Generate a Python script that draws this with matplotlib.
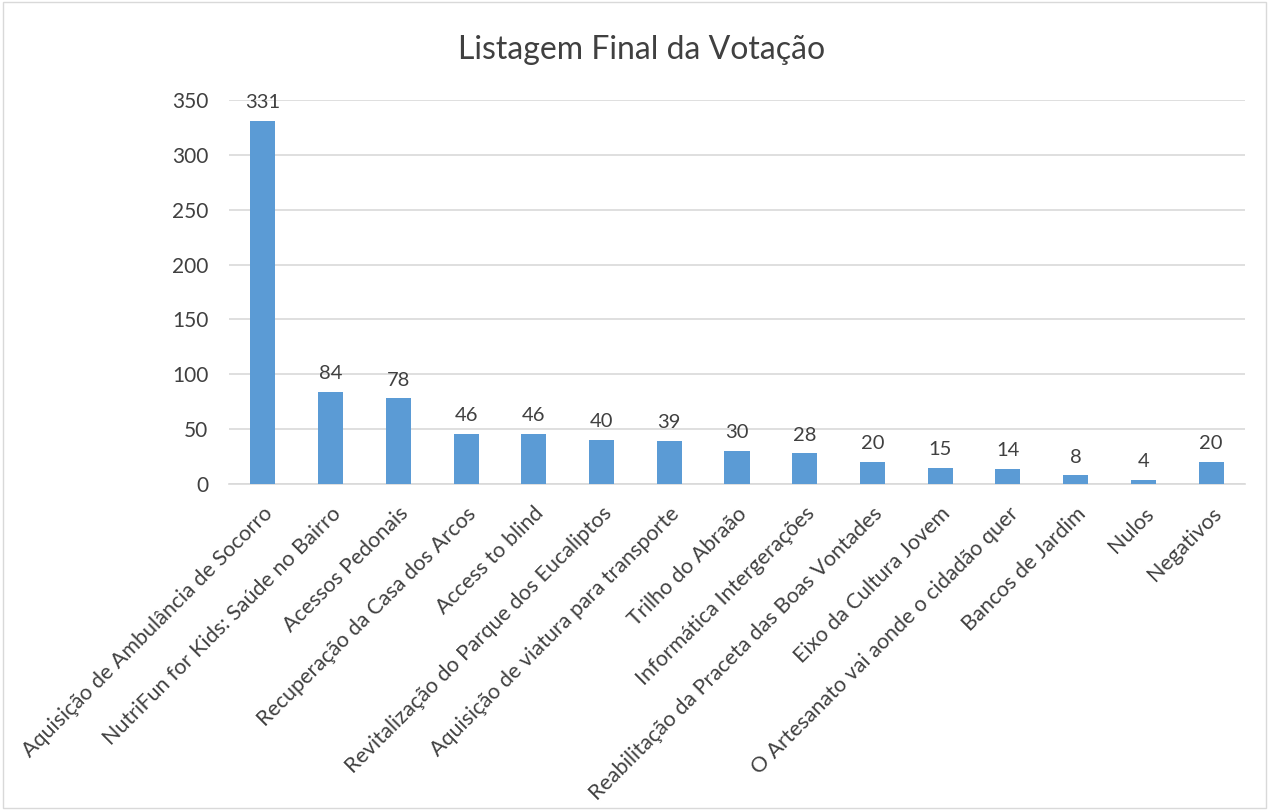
import matplotlib
matplotlib.use("Agg")
import matplotlib.pyplot as plt
from matplotlib.patches import Rectangle

projetos = ["Aquisição de Ambulância de Socorro", "NutriFun for Kids: Saúde no Bairro",
            "Acessos Pedonais", "Recuperação da Casa dos Arcos", "Access to blind",
            "Revitalização do Parque dos Eucaliptos", "Aquisição de viatura para transporte",
            "Trilho do Abraão", "Informática Intergerações", "Reabilitação da Praceta das Boas Vontades",
            "Eixo da Cultura Jovem", "O Artesanato vai aonde o cidadão quer", "Bancos de Jardim",
            "Nulos", "Negativos"]
votos = [331, 84, 78, 46, 46, 40, 39, 30, 28, 20, 15, 14, 8, 4, 20]
ticks_y = [0, 50, 100, 150, 200, 250, 300, 350]

plt.rcParams['font.family'] = ['Lato', 'DejaVu Sans']
cor_texto = "#404040"

fig = plt.figure(figsize=(12.69, 8.10), dpi=100)
ax = fig.add_axes([229/1269, 1 - 484/810, (1245-229)/1269, (484-100)/810])

x = range(len(projetos))
barras = ax.bar(x, votos, width=0.37, color="#5B9BD5", zorder=3)

for i, v in enumerate(votos):
    ax.annotate(str(v), (i, v), xytext=(0, 7), textcoords="offset points",
                ha="center", va="bottom", fontsize=14.5, color=cor_texto)

ax.set_xlim(-0.5, len(projetos) - 0.5)
ax.set_ylim(0, 350)
ax.set_yticks(ticks_y)
ax.set_yticklabels([str(t) for t in ticks_y], fontsize=15, color=cor_texto)
ax.set_xticks(list(x))
ax.set_xticklabels(projetos, rotation=45, ha="right", rotation_mode="anchor",
                   fontsize=15.5, color=cor_texto)
ax.tick_params(axis="both", length=0)
ax.tick_params(axis="y", pad=15)
ax.tick_params(axis="x", pad=14)

ax.grid(axis="y", color="#D9D9D9", linewidth=1.2, zorder=0)
for s in ["top", "right", "left"]:
    ax.spines[s].set_visible(False)
ax.spines["bottom"].set_color("#D9D9D9")
ax.spines["bottom"].set_linewidth(1.2)

fig.text(642/1269, 1 - 50/810, "Listagem Final da Votação", ha="center", va="center",
         fontsize=23, color=cor_texto)

fig.patches.append(Rectangle((0.002, 0.002), 0.996, 0.996, transform=fig.transFigure,
                             fill=False, edgecolor="#D9D9D9", linewidth=1))

fig.savefig("out.png", dpi=100)
